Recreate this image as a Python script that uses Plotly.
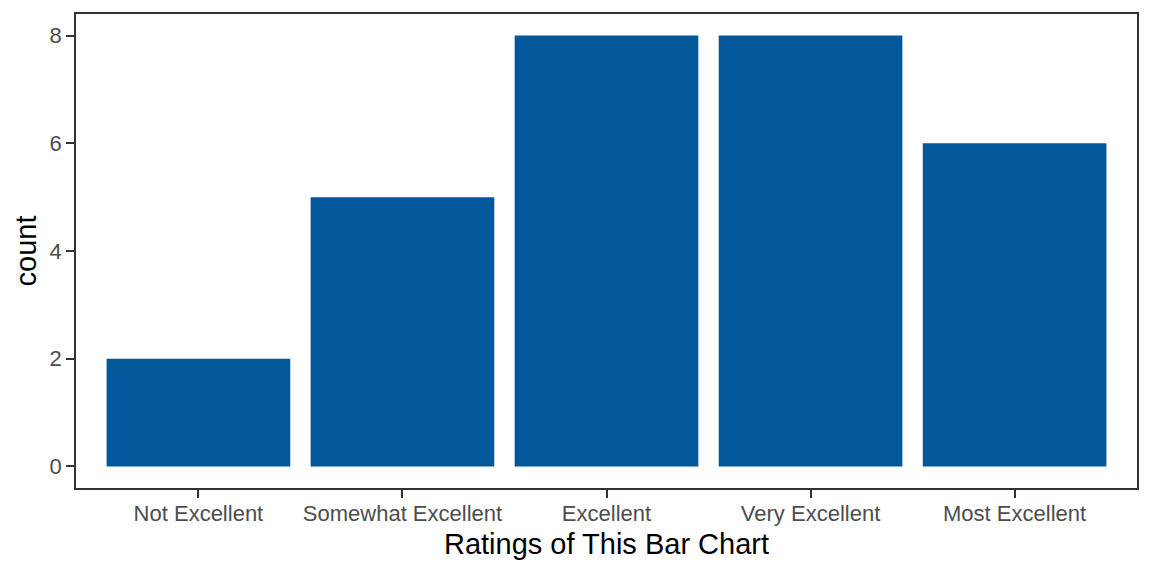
import plotly.graph_objects as go

categories = ["Not Excellent", "Somewhat Excellent", "Excellent", "Very Excellent", "Most Excellent"]
counts = [2, 5, 8, 8, 6]
y_ticks = [0, 2, 4, 6, 8]

bar_color = "#02589A"
axis_color = "#333333"
tick_font = dict(family="Liberation Sans, Arial, sans-serif", size=22, color="#4D4D4D")
title_font = dict(family="Liberation Sans, Arial, sans-serif", size=29, color="black")

fig = go.Figure(go.Bar(x=categories, y=counts, marker=dict(color=bar_color, line=dict(width=0)), width=0.9))

fig.update_layout(
    width=1152, height=576,
    margin=dict(l=76, r=15, t=14, b=88),
    plot_bgcolor="white", paper_bgcolor="white",
    showlegend=False,
    bargap=0.1,
)
fig.update_xaxes(
    type="category",
    range=[-0.6, 4.6],
    showgrid=False, zeroline=False,
    showline=True, linecolor=axis_color, linewidth=1.5, mirror=True,
    ticks="outside", ticklen=8, tickwidth=2, tickcolor=axis_color,
    tickfont=tick_font, ticklabelstandoff=-3,
    title=dict(text="Ratings of This Bar Chart", font=title_font, standoff=9),
)
fig.update_yaxes(
    range=[-0.4, 8.4],
    tickvals=y_ticks, ticktext=[str(v) for v in y_ticks],
    showgrid=False, zeroline=False,
    showline=True, linecolor=axis_color, linewidth=1.5, mirror=True,
    ticks="outside", ticklen=8, tickwidth=2, tickcolor=axis_color,
    tickfont=tick_font,
    title=dict(text="count", font=title_font, standoff=4),
)

fig.write_html("out.html")
